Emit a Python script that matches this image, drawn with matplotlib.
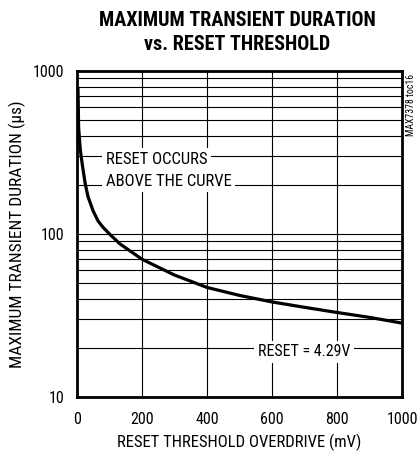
import matplotlib
matplotlib.use("Agg")
import matplotlib.pyplot as plt
import matplotlib.ticker as mticker

overdrive_mv = [3, 5, 10, 16, 25, 34, 50, 65, 80, 100, 132, 200, 300, 400, 500, 600, 700, 800, 900, 1000]
duration_us = [800, 450, 330, 269, 205, 169, 138, 120, 110, 100, 87, 70, 56, 47, 42, 38.3, 35.5, 33, 30.8, 28.4]
xticks = [0, 200, 400, 600, 800, 1000]
yticks = [10, 100, 1000]

fam = ['Roboto Condensed', 'DejaVu Sans']
fig = plt.figure(figsize=(4.19, 4.54), dpi=100)
ax = fig.add_axes([77/419, 57/454, 325/419, 326/454])
ax.set_yscale('log')
ax.set_xlim(0, 1000)
ax.set_ylim(10, 1000)
for v in range(200, 1000, 200):
    ax.axvline(v, color='black', lw=0.8, zorder=1)
for dec in (10, 100):
    for m in range(1, 10):
        val = dec * m
        if 10 < val < 1000:
            ax.axhline(val, color='black', lw=0.8, zorder=1)
ax.plot(overdrive_mv, duration_us, color='black', lw=2.3, zorder=3, solid_capstyle='butt')
ax.set_xticks(xticks)
ax.set_xticklabels([str(t) for t in xticks], family=fam, fontsize=11.5)
ax.set_yticks(yticks)
ax.set_yticklabels([str(t) for t in yticks], family=fam, fontsize=11.5)
ax.yaxis.set_minor_locator(mticker.NullLocator())
ax.tick_params(axis='x', length=0, pad=11)
ax.tick_params(axis='y', length=0, pad=9)
for s in ax.spines.values():
    s.set_linewidth(2)
ax.set_xlabel('RESET THRESHOLD OVERDRIVE (mV)', family=fam, fontsize=12, labelpad=5)
ax.set_ylabel('MAXIMUM TRANSIENT DURATION (µs)', family=fam, fontsize=12.5, labelpad=5)
bb = dict(facecolor='white', edgecolor='none', pad=2.5)
ax.text(89, 288, 'RESET OCCURS', family=fam, fontsize=12, va='center', ha='left', bbox=bb, zorder=2)
ax.text(89, 211, 'ABOVE THE CURVE', family=fam, fontsize=12, va='center', ha='left', bbox=bb, zorder=2)
ax.text(698, 18.9, 'RESET = 4.29V', family=fam, fontsize=11.5, va='center', ha='center', bbox=bb, zorder=2)
fig.text(237/419, 1 - 21/454, 'MAXIMUM TRANSIENT DURATION', family=fam,
         fontsize=14.5, fontweight='black', ha='center', va='center')
fig.text(237/419, 1 - 45/454, 'vs. RESET THRESHOLD', family=fam,
         fontsize=14.5, fontweight='black', ha='center', va='center')
fig.text(411/419, 1 - 105/454, 'MAX7378 toc16', family=fam, fontsize=7, rotation=90, ha='center', va='center')
fig.savefig('out.png', dpi=100)
